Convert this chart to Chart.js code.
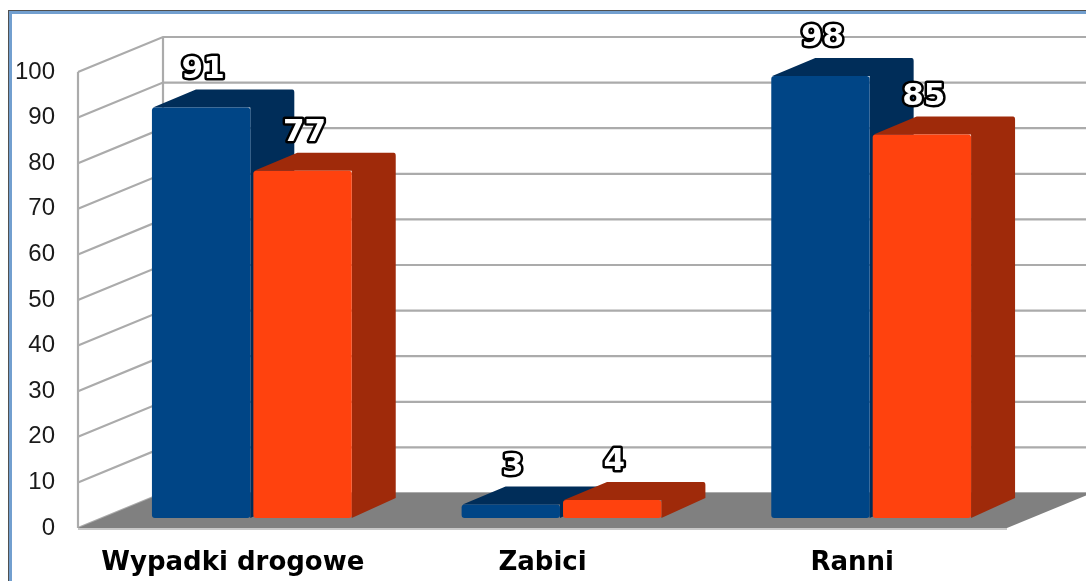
<!DOCTYPE html>
<html>
<head>
<meta charset="utf-8">
<script src="https://cdn.jsdelivr.net/npm/chart.js@4.4.0/dist/chart.umd.min.js"></script>
<style>
  html, body { margin: 0; padding: 0; background: #fff; }
  #wrap { width: 1086px; height: 581px; position: relative; }
</style>
</head>
<body>
<div id="wrap"><canvas id="chart"></canvas></div>
<script>
const categories = ['Wypadki drogowe', 'Zabici', 'Ranni'];
const seriesBlue = [91, 3, 98];
const seriesOrange = [77, 4, 85];
const yTickValues = [0, 10, 20, 30, 40, 50, 60, 70, 80, 90, 100];

// depth of the 3d box (walls) and of the bars, in pixels
const WALL_DX = 85, WALL_DY = -35;
const BAR_SX = 19, BAR_SY = -10;   // bars stand a bit behind the front edge
const BAR_DX = 44, BAR_DY = -18;

const sideColors = ['#002d59', '#9f2a0a'];

function barBox(bar) {
  const p = bar.getProps(['x', 'y', 'base', 'width'], true);
  return {
    l: p.x - p.width / 2 + BAR_SX,
    r: p.x + p.width / 2 + BAR_SX,
    t: p.y + BAR_SY,
    b: p.base + BAR_SY,
    cx: p.x + BAR_SX
  };
}

const box3d = {
  id: 'box3d',
  beforeDraw(chart) {
    const ctx = chart.ctx;
    ctx.save();
    // frame round the picture
    ctx.fillStyle = '#505050';
    ctx.fillRect(8, 10, chart.width, 1);
    ctx.fillRect(8, 10, 1, chart.height);
    ctx.fillStyle = '#729fcf';
    ctx.fillRect(9, 11, chart.width, 3);
    ctx.fillRect(9, 11, 3, chart.height);
    ctx.restore();
  },
  beforeDatasetsDraw(chart) {
    const ctx = chart.ctx;
    const area = chart.chartArea;
    const y = chart.scales.y;
    const x0 = area.left, x1 = area.right;
    const y0 = y.getPixelForValue(0);
    const yTop = y.getPixelForValue(100);

    ctx.save();
    // grid lines on side wall and back wall
    ctx.strokeStyle = '#ababab';
    ctx.lineWidth = 2.2;
    yTickValues.forEach(v => {
      const py = y.getPixelForValue(v);
      ctx.beginPath();
      ctx.moveTo(x0, py);
      ctx.lineTo(x0 + WALL_DX, py + WALL_DY);
      ctx.lineTo(chart.width, py + WALL_DY);
      ctx.stroke();
    });
    ctx.beginPath();
    ctx.moveTo(x0, yTop); ctx.lineTo(x0, y0);
    ctx.moveTo(x0 + WALL_DX, yTop + WALL_DY); ctx.lineTo(x0 + WALL_DX, y0 + WALL_DY);
    ctx.stroke();

    // floor
    ctx.fillStyle = '#808080';
    ctx.beginPath();
    ctx.moveTo(x0, y0);
    ctx.lineTo(x1, y0);
    ctx.lineTo(x1 + WALL_DX, y0 + WALL_DY);
    ctx.lineTo(x0 + WALL_DX, y0 + WALL_DY);
    ctx.closePath();
    ctx.fill();
    ctx.strokeStyle = '#c8c8c8';
    ctx.beginPath(); ctx.moveTo(x0, y0 + 1); ctx.lineTo(x1, y0 + 1); ctx.stroke();

    // top and side faces of the bars
    chart.data.datasets.forEach((ds, i) => {
      chart.getDatasetMeta(i).data.forEach(bar => {
        const b = barBox(bar);
        ctx.fillStyle = sideColors[i];
        ctx.beginPath();
        ctx.moveTo(b.l + 1, b.t);
        ctx.lineTo(b.l + BAR_DX, b.t + BAR_DY);
        ctx.lineTo(b.r + BAR_DX - 2, b.t + BAR_DY);
        ctx.quadraticCurveTo(b.r + BAR_DX, b.t + BAR_DY, b.r + BAR_DX, b.t + BAR_DY + 3);
        ctx.lineTo(b.r + BAR_DX, b.b + BAR_DY - 2);
        ctx.lineTo(b.r, b.b);
        ctx.lineTo(b.r, b.t);
        ctx.closePath();
        ctx.fill();
      });
    });
    ctx.restore();

    // front faces are drawn by Chart.js, pushed back a bit
    ctx.save();
    ctx.translate(BAR_SX, BAR_SY);
  },
  afterDatasetsDraw(chart) {
    const ctx = chart.ctx;
    ctx.restore();

    ctx.save();
    ctx.font = 'bold 31px "DejaVu Sans"';
    ctx.textAlign = 'center';
    ctx.textBaseline = 'middle';
    ctx.lineJoin = 'round';
    ctx.lineWidth = 5;
    ctx.strokeStyle = '#000';
    ctx.fillStyle = '#fff';
    chart.data.datasets.forEach((ds, i) => {
      chart.getDatasetMeta(i).data.forEach((bar, j) => {
        const b = barBox(bar);
        const txt = String(ds.data[j]);
        ctx.strokeText(txt, b.cx + 2, b.t - 38);
        ctx.fillText(txt, b.cx + 2, b.t - 38);
      });
    });
    ctx.restore();
  }
};

const ctx = document.getElementById('chart');

const myChart = new Chart(ctx, {
  type: 'bar',
  data: {
    labels: categories,
    datasets: [{
      data: seriesBlue,
      backgroundColor: '#004586',
      yAxisID: 'yb'
    }, {
      data: seriesOrange,
      backgroundColor: '#ff420e',
      yAxisID: 'yb'
    }]
  },
  options: {
    responsive: true,
    maintainAspectRatio: false,
    animation: false,
    layout: { padding: { left: 10, top: 72, right: 79, bottom: 0 } },
    datasets: {
      bar: {
        categoryPercentage: 0.655,
        barPercentage: 0.97,
        borderRadius: 3,
        borderSkipped: false,
        clip: false
      }
    },
    plugins: {
      legend: { display: false },
      tooltip: { enabled: false }
    },
    scales: {
      x: {
        grid: { display: false, drawTicks: false },
        border: { display: false },
        ticks: {
          color: '#000',
          font: { family: 'DejaVu Sans', size: 26, weight: 'bold' },
          padding: 20
        },
        afterFit: s => { s.height = 53; }
      },
      y: {
        min: 0,
        max: 100,
        grid: { display: false, drawTicks: false },
        border: { display: false },
        afterBuildTicks: s => { s.ticks = yTickValues.map(v => ({ value: v })); },
        ticks: {
          color: '#1a1a1a',
          font: { family: 'Liberation Sans', size: 24 },
          padding: 23
        },
        afterFit: s => { s.width = 68; }
      },
      // bars use a slightly flatter scale (perspective of the 3d box)
      yb: {
        axis: 'y',
        position: 'left',
        display: false,
        min: 0,
        max: 101.1
      }
    }
  },
  plugins: [box3d]
});
</script>
</body>
</html>
